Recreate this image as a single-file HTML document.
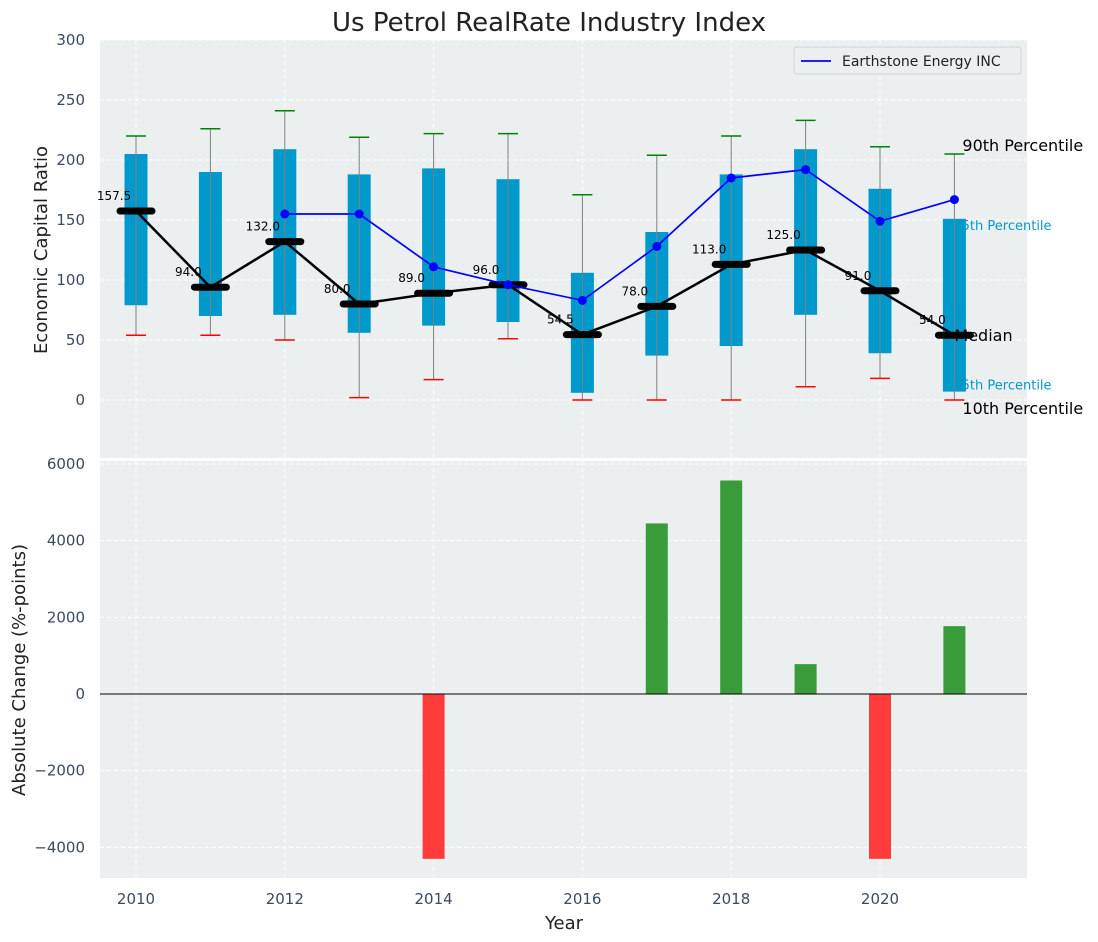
<!DOCTYPE html>
<html><head><meta charset="utf-8"><style>
body{margin:0;background:#fff}
svg{font-family:"DejaVu Sans","Liberation Sans",sans-serif;display:block}
</style></head><body>
<svg id="c" width="1098" height="942" xmlns="http://www.w3.org/2000/svg"></svg>
<script>
const years=[2010,2011,2012,2013,2014,2015,2016,2017,2018,2019,2020,2021];
const p90=[220,226,241,219,222,222,171,204,220,233,211,205];
const p75=[205,190,209,188,193,184,106,140,188,209,176,151];
const median=[157.5,94,132,80,89,96,54.5,78,113,125,91,54];
const p25=[79,70,71,56,62,65,6,37,45,71,39,7];
const p10=[54,54,50,2,17,51,0,0,0,11,18,0];
const company=[null,null,155,155,111,96,83,128,185,192,149,167];
const changes=[0,0,0,0,-4300,0,0,4450,5570,780,-4300,1770];
const topTicks=[0,50,100,150,200,250,300];
const botTicks=[-4000,-2000,0,2000,4000,6000];
const xTicks=[2010,2012,2014,2016,2018,2020];

const svg=document.getElementById('c');
const NS='http://www.w3.org/2000/svg';
function mk(tag,attrs,parent,text){const e=document.createElementNS(NS,tag);for(const k in attrs)e.setAttribute(k,attrs[k]);if(text!==undefined)e.textContent=text;(parent||svg).appendChild(e);return e;}
const L=100,R=1027;
const x=v=>136+(v-2010)*74.4;
const yT=v=>400-v*1.2;
const yB=v=>694-v*0.038333;
const T1=40,B1=458,T2=461,B2=878;

let e=mk('rect',{x:L,y:T1,width:R-L,height:B1-T1,fill:'#ebeff0'});

e=mk('rect',{x:L,y:T2,width:R-L,height:B2-T2,fill:'#ebeff0'});


for(const t of topTicks){mk('line',{x1:L,x2:R,y1:yT(t),y2:yT(t),stroke:'#fff','stroke-dasharray':'4,3','stroke-width':1});
 e=mk('text',{x:85,y:yT(t)+5,'text-anchor':'end','font-size':15,fill:'#3b4a5e'},svg,String(t));
 }
for(const t of botTicks){mk('line',{x1:L,x2:R,y1:yB(t),y2:yB(t),stroke:'#fff','stroke-dasharray':'4,3','stroke-width':1});
 e=mk('text',{x:85,y:yB(t)+5,'text-anchor':'end','font-size':15,fill:'#3b4a5e'},svg,t<0?'\u2212'+(-t):String(t));
 }
for(const t of xTicks){
 mk('line',{x1:x(t),x2:x(t),y1:T1,y2:B1,stroke:'#fff','stroke-dasharray':'4,3'});
 mk('line',{x1:x(t),x2:x(t),y1:T2,y2:B2,stroke:'#fff','stroke-dasharray':'4,3'});
 e=mk('text',{x:x(t),y:904,'text-anchor':'middle','font-size':15,fill:'#3b4a5e'},svg,String(t));
 }

years.forEach((yr,i)=>{
 const cx=x(yr);
 e=mk('rect',{x:cx-11.5,y:yT(p75[i]),width:23,height:yT(p25[i])-yT(p75[i]),fill:'#0099cc'});
 
 e=mk('line',{x1:cx,x2:cx,y1:yT(p10[i]),y2:yT(p90[i]),stroke:'#808080','stroke-width':1});
 
 e=mk('line',{x1:cx-10,x2:cx+10,y1:yT(p90[i]),y2:yT(p90[i]),stroke:'#008000','stroke-width':1.5});
 
 e=mk('line',{x1:cx-10,x2:cx+10,y1:yT(p10[i]),y2:yT(p10[i]),stroke:'#ff0000','stroke-width':1.5});
 
});
e=mk('polyline',{points:years.map((yr,i)=>x(yr)+','+yT(median[i])).join(' '),fill:'none',stroke:'#000','stroke-width':2.5});

years.forEach((yr,i)=>{
 e=mk('line',{x1:x(yr)-16,x2:x(yr)+16,y1:yT(median[i]),y2:yT(median[i]),stroke:'#000','stroke-width':7,'stroke-linecap':'round'});
 
 e=mk('text',{x:x(yr)-22,y:yT(median[i])-11,'text-anchor':'middle','font-size':12,fill:'#000'},svg,median[i].toFixed(1));
 
});
const pts=[];years.forEach((yr,i)=>{if(company[i]!==null)pts.push([x(yr),yT(company[i])]);});
e=mk('polyline',{points:pts.map(p=>p.join(',')).join(' '),fill:'none',stroke:'#0000ff','stroke-width':1.7});

pts.forEach(p=>{e=mk('circle',{cx:p[0],cy:p[1],r:4.5,fill:'#0000ff'});
 });

const li=years.length-1, lx=x(years[li]);
function lab(t,xx,yy,sz,col,nm){e=mk('text',{x:xx,y:yy,'font-size':sz,fill:col},svg,t);return e;}
lab('90th Percentile',lx+8,yT(p90[li])-3,16,'#000','p90-label');
lab('75th Percentile',lx-1,yT(p75[li])+11,13,'#0099cc','p75-label');
lab('Median',lx,yT(median[li])+6,16,'#000','median-label');
lab('25th Percentile',lx-1,yT(p25[li])-2,13,'#0099cc','p25-label');
lab('10th Percentile',lx+8,yT(p10[li])+14,16,'#000','p10-label');

e=mk('rect',{x:794,y:47,width:227,height:27,fill:'#ebeff0',stroke:'#cfd4d8',rx:3});

mk('line',{x1:801,x2:831,y1:61,y2:61,stroke:'#0000ff','stroke-width':1.7});
lab('Earthstone Energy INC',842,66,14,'#222','legend-entry');

years.forEach((yr,i)=>{if(!changes[i])return;
 const v=changes[i];
 e=mk('rect',{x:x(yr)-11,y:Math.min(yB(v),yB(0)),width:22,height:Math.abs(yB(v)-yB(0)),fill:v>0?'#3a9b3a':'#ff3b3b'});
 });
mk('line',{x1:L,x2:R,y1:yB(0),y2:yB(0),stroke:'#000','stroke-width':1});

e=lab('Us Petrol RealRate Industry Index',549,31,26,'#222','chart-title');
e.setAttribute('text-anchor','middle');
e=mk('text',{x:47,y:250,'font-size':18,fill:'#222','text-anchor':'middle',transform:'rotate(-90 47 250)'},svg,'Economic Capital Ratio');

e=mk('text',{x:25,y:670,'font-size':18,fill:'#222','text-anchor':'middle',transform:'rotate(-90 25 670)'},svg,'Absolute Change (%-points)');

e=mk('text',{x:564,y:929,'font-size':18,fill:'#222','text-anchor':'middle'},svg,'Year');

</script>
</body></html>
